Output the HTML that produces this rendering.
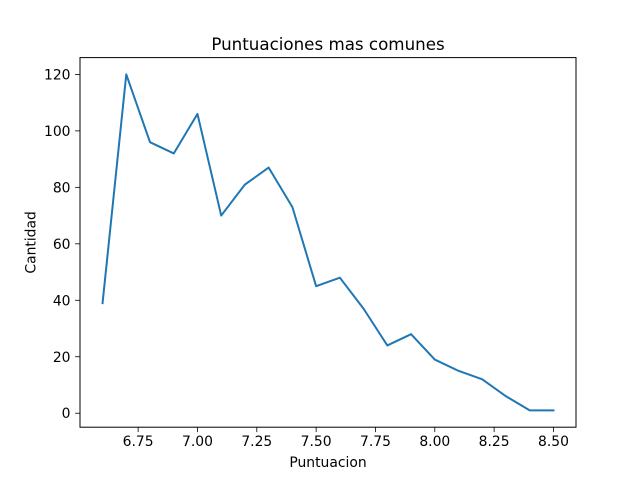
<!DOCTYPE html>
<html><head><meta charset="utf-8"><style>
body{margin:0;background:#fff;}
svg text{font-family:"DejaVu Sans","Liberation Sans",sans-serif;fill:#000;}
</style></head><body>
<svg id="chart" width="640" height="480" xmlns="http://www.w3.org/2000/svg">
<rect width="640" height="480" fill="#fff"/>
<text x="328" y="50" font-size="16.7" text-anchor="middle">Puntuaciones mas comunes</text>
<text x="328" y="467" font-size="13.9" text-anchor="middle">Puntuacion</text>
<text transform="translate(35.5,242.4) rotate(-90)" font-size="13.9" text-anchor="middle">Cantidad</text>
</svg>
<script>
const xValues=[6.6,6.7,6.8,6.9,7.0,7.1,7.2,7.3,7.4,7.5,7.6,7.7,7.8,7.9,8.0,8.1,8.2,8.3,8.4,8.5];
const counts=[39,120,96,92,106,70,81,87,73,45,48,37,24,28,19,15,12,6,1,1];
const xTicks=[6.75,7.0,7.25,7.5,7.75,8.0,8.25,8.5];
const xTickLabels=["6.75","7.00","7.25","7.50","7.75","8.00","8.25","8.50"];
const yTicks=[0,20,40,60,80,100,120];

const L=80,R=576,T=57.6,B=427.2;
const xmin=Math.min(...xValues),xmax=Math.max(...xValues),xm=(xmax-xmin)*0.05;
const ymin=Math.min(...counts),ymax=Math.max(...counts),ym=(ymax-ymin)*0.05;
const x0=xmin-xm,x1=xmax+xm,y0=ymin-ym,y1=ymax+ym;
const sx=v=>L+(v-x0)/(x1-x0)*(R-L);
const sy=v=>B-(v-y0)/(y1-y0)*(B-T);
const NS="http://www.w3.org/2000/svg";
const svg=document.getElementById('chart');
function mk(tag,attrs){const e=document.createElementNS(NS,tag);for(const k in attrs)e.setAttribute(k,attrs[k]);svg.appendChild(e);return e;}
xTicks.forEach((t,i)=>{
 const x=sx(t);
 const l=mk('line',{x1:x,x2:x,y1:B,y2:B+4.9,stroke:'#000','stroke-width':0.8});
 
 
 const tx=mk('text',{x:x,y:B+19,'font-size':13.9,'text-anchor':'middle'});
 tx.textContent=xTickLabels[i];
 
 
});
yTicks.forEach(t=>{
 const y=sy(t);
 const l=mk('line',{x1:L-4.9,x2:L,y1:y,y2:y,stroke:'#000','stroke-width':0.8});
 
 
 const tx=mk('text',{x:L-9.5,y:y+5,'font-size':13.9,'text-anchor':'end'});
 tx.textContent=String(t);
 
 
});
const pts=xValues.map((v,i)=>sx(v).toFixed(2)+','+sy(counts[i]).toFixed(2)).join(' ');
const line=mk('polyline',{points:pts,fill:'none',stroke:'#1f77b4','stroke-width':2,'stroke-linejoin':'round','stroke-linecap':'square'});


const frame=mk('rect',{x:L,y:T,width:R-L,height:B-T,fill:'none',stroke:'#000','stroke-width':1});


</script>
</body></html>
